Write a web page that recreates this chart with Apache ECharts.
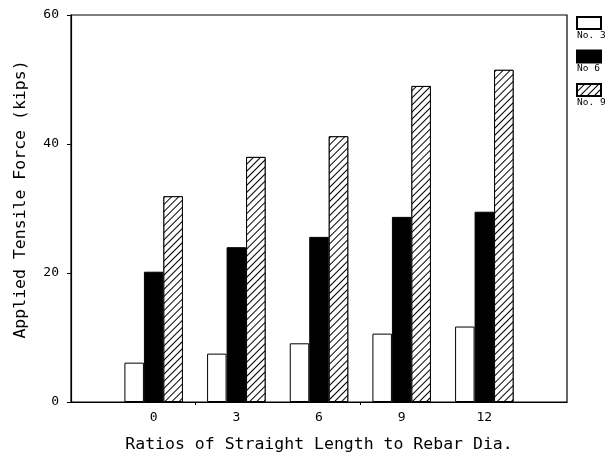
<!DOCTYPE html>
<html>
<head>
<meta charset="utf-8">
<script src="https://cdn.jsdelivr.net/npm/echarts@6/dist/echarts.min.js"></script>
<style>
  html, body { margin: 0; padding: 0; background: #fff; }
  #chart { width: 607px; height: 455px; }
</style>
</head>
<body>
<div id="chart"></div>
<script>
// Ratio of straight embedment length to bar diameter
var ratios = [0, 3, 6, 9, 12];
// Applied tensile force (kips) for each bar size
var no3 = [6.1, 7.5, 9.1, 10.6, 11.7];
var no6 = [20.2, 24.0, 25.6, 28.7, 29.5];
var no9 = [31.9, 38.0, 41.2, 49.0, 51.5];
var seriesNames = ['No. 3', 'No 6', 'No. 9'];
var yTicks = [0, 20, 40, 60];
var xTickMarks = [1.5, 7.5];

var FONT = 'DejaVu Sans Mono';

function pairs(vals) {
  return ratios.map(function (r, i) { return [r, vals[i]]; });
}

var hatch = {
  symbol: 'rect',
  symbolSize: 1,
  dashArrayX: [1, 0],
  dashArrayY: [1, 4],
  rotation: -Math.PI / 4,
  color: '#000',
  backgroundColor: '#fff'
};

var chart = echarts.init(document.getElementById('chart'), null, { renderer: 'canvas' });

chart.setOption({
  backgroundColor: '#fff',
  animation: false,
  grid: {
    left: 71, right: 40, top: 15, bottom: 53,
    outerBoundsMode: 'none',
    containLabel: false,
    show: true,
    borderColor: '#000',
    borderWidth: 1.2,
    backgroundColor: 'transparent'
  },
  legend: [
    {
      // swatches
      orient: 'vertical',
      left: 576, top: 16,
      padding: 0,
      icon: 'rect',
      itemWidth: 24, itemHeight: 12,
      itemGap: 19.5,
      formatter: function () { return ''; },
      textStyle: { fontSize: 1, lineHeight: 12 },
      data: seriesNames
    },
    {
      // captions under each swatch
      orient: 'vertical',
      left: 571, top: 29.5,
      padding: 0,
      icon: 'rect',
      itemWidth: 0, itemHeight: 0,
      itemGap: 21.5,
      itemStyle: { opacity: 0 },
      textStyle: { fontFamily: FONT, fontSize: 9.5, lineHeight: 12, color: '#000' },
      data: seriesNames
    }
  ],
  xAxis: {
    type: 'value',
    min: -3, max: 15,
    splitLine: { show: false },
    axisLine: { show: true, onZero: false, lineStyle: { color: '#000', width: 1.2 } },
    axisTick: { show: true, customValues: xTickMarks, length: 3, inside: false, lineStyle: { color: '#000' } },
    axisLabel: {
      customValues: ratios,
      fontFamily: FONT, fontSize: 13, color: '#000', margin: 9
    },
    name: 'Ratios of Straight Length to Rebar Dia.',
    nameLocation: 'middle',
    nameGap: 34,
    nameTextStyle: { fontFamily: FONT, fontSize: 16.5, color: '#000' }
  },
  yAxis: {
    type: 'value',
    min: 0, max: 60, interval: 20,
    splitLine: { show: false },
    axisLine: { show: true, onZero: false, lineStyle: { color: '#000', width: 1.2 } },
    axisTick: { show: true, length: 4, lineStyle: { color: '#000' } },
    axisLabel: {
      customValues: yTicks,
      fontFamily: FONT, fontSize: 13, color: '#000', margin: 12
    },
    name: 'Applied Tensile Force (kips)',
    nameLocation: 'middle',
    nameGap: 42,
    nameRotate: 90,
    nameTextStyle: { fontFamily: FONT, fontSize: 16.5, color: '#000', padding: [0, 0, 0, 18] }
  },
  series: [
    {
      name: seriesNames[0], type: 'bar',
      barWidth: 19.5, barGap: '0%',
      itemStyle: { color: '#fff', borderColor: '#000', borderWidth: 1 },
      data: pairs(no3)
    },
    {
      name: seriesNames[1], type: 'bar',
      barWidth: 19.5, barGap: '0%',
      itemStyle: { color: '#000', borderColor: '#000', borderWidth: 1 },
      data: pairs(no6)
    },
    {
      name: seriesNames[2], type: 'bar',
      barWidth: 19.5, barGap: '0%',
      itemStyle: { color: '#fff', borderColor: '#000', borderWidth: 1, decal: hatch },
      data: pairs(no9)
    }
  ]
});
</script>
</body>
</html>
